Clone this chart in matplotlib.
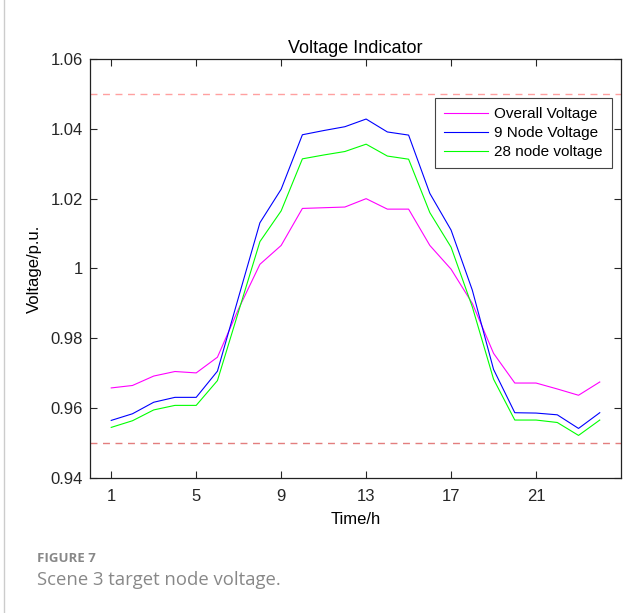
import numpy as np
import matplotlib
matplotlib.use("Agg")
import matplotlib.pyplot as plt

plt.rcParams['font.family'] = ['Liberation Sans', 'DejaVu Sans']

hours = np.arange(1, 25)
overall = [0.9658, 0.9665, 0.9692, 0.9705, 0.9701, 0.9746, 0.9885, 1.0012,
           1.0066, 1.0172, 1.0174, 1.0176, 1.0200, 1.0170, 1.0170, 1.0066,
           0.9998, 0.9900, 0.9757, 0.9672, 0.9672, 0.9655, 0.9637, 0.9675]
node9 = [0.9565, 0.9584, 0.9617, 0.9631, 0.9631, 0.9706, 0.9919, 1.0131,
         1.0227, 1.0383, 1.0395, 1.0406, 1.0428, 1.0391, 1.0382, 1.0215,
         1.0110, 0.9938, 0.9711, 0.9587, 0.9586, 0.9581, 0.9542, 0.9587]
node28 = [0.9545, 0.9564, 0.9595, 0.9608, 0.9608, 0.9679, 0.9878, 1.0077,
          1.0165, 1.0314, 1.0325, 1.0335, 1.0356, 1.0322, 1.0313, 1.0160,
          1.0061, 0.9890, 0.9683, 0.9566, 0.9566, 0.9559, 0.9522, 0.9566]
upper_limit = 1.05
lower_limit = 0.95

xticks = [1, 5, 9, 13, 17, 21]
yticks = [0.94, 0.96, 0.98, 1.00, 1.02, 1.04, 1.06]
ytick_labels = ["0.94", "0.96", "0.98", "1", "1.02", "1.04", "1.06"]

fig = plt.figure(figsize=(6.41, 6.13), dpi=100)
ax = fig.add_axes([0.1404, 0.2202, 0.8284, 0.6836])

ax.plot(hours, overall, color="#ff00ff", lw=0.8, label="Overall Voltage")
ax.plot(hours, node9, color="#0000ff", lw=0.8, label="9 Node Voltage")
ax.plot(hours, node28, color="#00ff00", lw=0.8, label="28 node voltage")
ax.axhline(upper_limit, color="#ff8080", ls=(0, (5, 4)), lw=1.0, alpha=0.75)
ax.axhline(lower_limit, color="#e07070", ls=(0, (5, 4)), lw=1.0, alpha=0.9)

ax.set_xlim(0, 25)
ax.set_ylim(0.94, 1.06)
ax.set_xticks(xticks)
ax.set_yticks(yticks)
ax.set_yticklabels(ytick_labels)
ax.tick_params(direction="in", top=True, right=True, labelsize=12, length=5,
               width=0.8, colors="#262626")
ax.tick_params(axis="y", pad=5)
ax.tick_params(axis="x", pad=8)
for s in ax.spines.values():
    s.set_linewidth(0.9)
    s.set_color("#222222")

ax.set_title("Voltage Indicator", fontsize=13, pad=4)
ax.set_xlabel("Time/h", fontsize=12, labelpad=6)
ax.set_ylabel("Voltage/p.u.", fontsize=12, labelpad=6)

leg = ax.legend(loc="upper right", bbox_to_anchor=(0.983, 0.907), fontsize=11,
                fancybox=False, framealpha=1, edgecolor="#444444",
                handlelength=2.9, borderpad=0.6, labelspacing=0.33,
                handletextpad=0.4, borderaxespad=0)
leg.get_frame().set_linewidth(0.8)

fig.text(37 / 641, 1 - 562 / 613, "FIGURE 7", fontsize=9.5, color="#888888",
         fontweight="bold", family="Open Sans")
fig.text(37 / 641, 1 - 585 / 613, "Scene 3 target node voltage.", fontsize=13.3,
         color="#888888", family="Open Sans")
fig.add_artist(plt.Line2D([0.007, 0.007], [0, 1], color="#cccccc", lw=1))

fig.savefig("out.png", dpi=100)
